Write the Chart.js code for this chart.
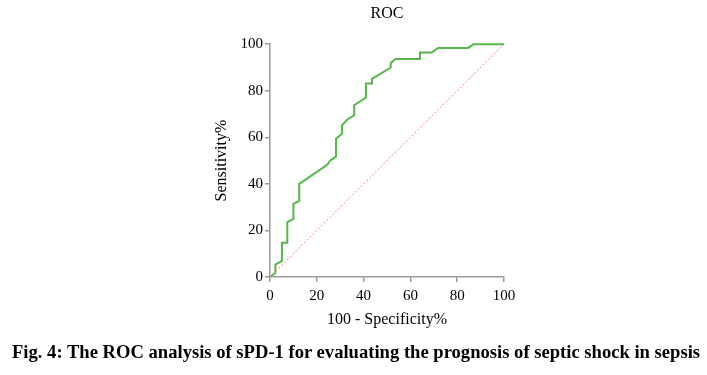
<!DOCTYPE html>
<html>
<head>
<meta charset="utf-8">
<script src="https://cdn.jsdelivr.net/npm/chart.js@4/dist/chart.umd.min.js"></script>
<style>
  html, body { margin: 0; padding: 0; background: #fff; }
  #wrap { position: relative; width: 707px; height: 375px; }
  #caption {
    position: absolute; left: 12px; top: 343px;
    font-family: "Liberation Serif", "Times New Roman", serif;
    font-weight: bold; font-size: 18px; line-height: 18px;
    white-space: nowrap; transform-origin: 0 0; color: #000;
  }
</style>
</head>
<body>
<div id="wrap">
  <canvas id="roc" width="707" height="375"></canvas>
  <div id="caption">Fig. 4: The ROC analysis of sPD-1 for evaluating the prognosis of septic shock in sepsis</div>
</div>
<script>
// 100 - specificity (%) and sensitivity (%)
const fpr = [0, 2.3, 2.3, 5.1, 5.1, 7.4, 7.4, 10, 10, 12.5, 12.5, 24.6, 25.6, 28.2, 28.2, 30.8, 30.8, 33.2, 36, 36, 41, 41, 43.6, 43.6, 51.6, 51.6, 53.6, 64.1, 64.1, 69.2, 71.8, 84.6, 87, 100];
const tpr = [0, 1.7, 5.3, 6.9, 14.7, 14.7, 23.6, 25, 31.4, 32.7, 40, 48.3, 50, 51.7, 59.4, 61.5, 65.2, 67.8, 69.5, 73.8, 77.1, 83.1, 83.1, 85.1, 90, 91.9, 93.6, 93.6, 96.4, 96.4, 98.4, 98.4, 100, 100];
const refX = [0, 100];
const refY = [0, 100];
const xTicks = [0, 20, 40, 60, 80, 100];

const serif = "'Liberation Serif', 'Times New Roman', serif";
const axisColor = '#9a9a9a';

let rocPts = fpr.map((v, i) => ({x: v, y: tpr[i]}));
let refPts = refX.map((v, i) => ({x: v, y: refY[i]}));

const ctx = document.getElementById('roc').getContext('2d');
const chart = new Chart(ctx, {
    type: 'scatter',
    data: {
        datasets: [{
            data: refPts,
            showLine: true,
            borderColor: '#f08080',
            borderWidth: 1,
            borderDash: [2, 2],
            pointRadius: 0
        }, {
            data: rocPts,
            showLine: true,
            clip: 4,
            borderColor: '#55b848',
            borderWidth: 2,
            pointRadius: 0
        }]
    },
    options: {
        responsive: false,
        animation: false,
        layout: { padding: { left: 200, right: 203, top: 0, bottom: 40 } },
        plugins: {
            legend: { display: false },
            tooltip: { enabled: false },
            title: {
                display: true,
                text: 'ROC',
                fullSize: false,
                color: '#000',
                font: { family: serif, size: 16, weight: 'normal' },
                padding: { top: 4, bottom: 21 }
            }
        },
        scales: {
            x: {
                type: 'linear',
                min: 0, max: 100,
                afterBuildTicks: (s) => { s.ticks = xTicks.map(v => ({value: v})); },
                ticks: { color: '#000', font: { family: serif, size: 15 }, padding: 5 },
                grid: { drawOnChartArea: false, tickLength: 5, color: axisColor, lineWidth: 1.5 },
                border: { color: axisColor, width: 1.5 },
                title: {
                    display: true, text: '100 - Specificity%', color: '#000',
                    font: { family: serif, size: 16 }, padding: { top: 0, bottom: 6 }
                },
                afterFit: (s) => { s.height = 58; }
            },
            y: {
                type: 'linear',
                min: 0, max: 100,
                ticks: { stepSize: 20, color: '#000', font: { family: serif, size: 15 }, padding: 2 },
                grid: { drawOnChartArea: false, tickLength: 5, color: axisColor, lineWidth: 1.5 },
                border: { color: axisColor, width: 1.5 },
                title: {
                    display: true, text: 'Sensitivity%', color: '#000',
                    font: { family: serif, size: 16 }, padding: { top: 12, bottom: 0 }
                },
                afterFit: (s) => { s.width = 70; }
            }
        }
    }
});

// squeeze the caption to the width it has in the figure
let cap = document.getElementById('caption');
let w = cap.offsetWidth;
cap.style.transform = 'scaleX(' + (688 / w) + ')';
</script>
</body>
</html>
